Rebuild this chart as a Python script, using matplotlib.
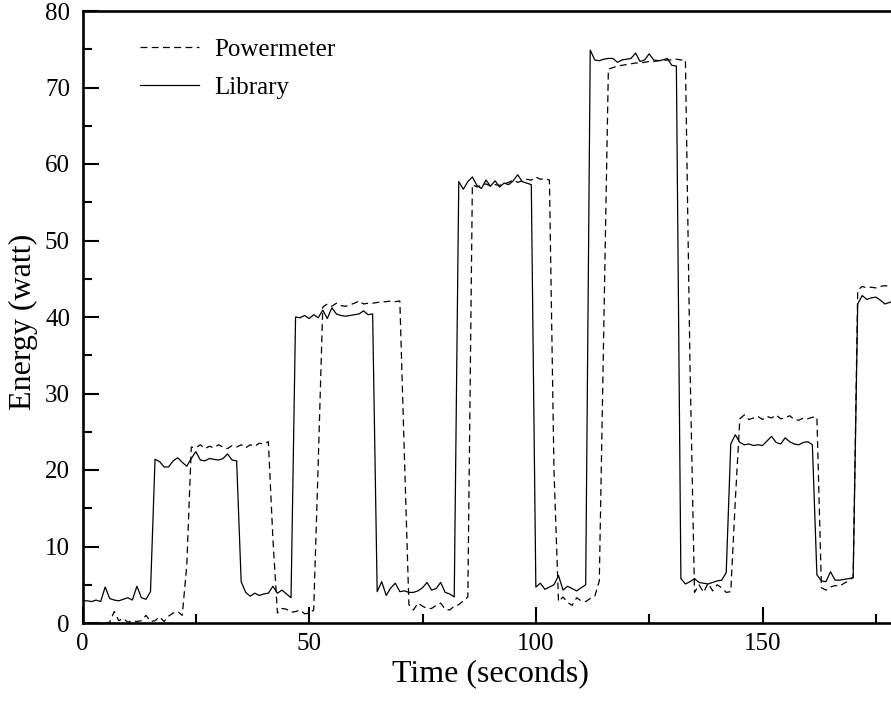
import numpy as np
import matplotlib
matplotlib.use("Agg")
import matplotlib.pyplot as plt
from matplotlib.ticker import MultipleLocator

# ---- data (one sample per second) ----
time_s = np.arange(0, 181)

library = [
    2.9, 2.9, 2.8, 3.0, 2.8, 4.7, 3.2, 3.0, 2.9, 3.1, 3.3, 3.0, 4.8, 3.3, 3.1, 4.1,
    21.4, 21.1, 20.4, 20.4, 21.2, 21.6, 21.0, 20.5, 21.5, 22.4, 21.3, 21.2, 21.5, 21.4, 21.3, 21.5, 22.1, 21.3, 21.2,
    5.4, 4.0, 3.5, 3.9, 3.6, 3.8, 3.9, 4.8, 3.9, 4.3, 3.8, 3.3,
    40.0, 39.9, 40.2, 39.8, 40.3, 39.9, 40.9, 39.8, 41.2, 40.4, 40.2, 40.1, 40.2, 40.3, 40.4, 40.8, 40.3, 40.4,
    4.1, 5.4, 3.6, 4.6, 5.2, 4.1, 4.2, 4.0, 4.0, 4.2, 4.6, 5.3, 4.3, 4.5, 5.3, 4.0, 3.8, 3.4,
    57.7, 56.7, 57.7, 58.3, 57.2, 56.8, 57.9, 57.1, 57.8, 57.0, 57.5, 57.3, 57.8, 58.6, 57.7, 57.5, 57.3,
    4.7, 5.2, 4.4, 4.7, 5.0, 6.2, 4.3, 4.8, 4.5, 4.2, 4.6, 5.0,
    74.9, 73.6, 73.5, 73.7, 73.8, 73.8, 73.3, 73.6, 73.7, 73.8, 74.5, 73.4, 73.6, 74.4, 73.6, 73.5, 73.6, 73.8, 72.9, 72.8,
    5.8, 5.1, 5.4, 5.8, 5.3, 5.2, 5.1, 5.3, 5.5, 5.6, 6.6,
    23.4, 24.6, 23.6, 23.3, 23.4, 23.2, 23.3, 23.2, 23.8, 24.4, 23.6, 23.4, 24.2, 23.7, 23.4, 23.3, 23.6, 23.7, 23.3,
    6.3, 5.5, 5.4, 6.7, 5.6, 5.6, 5.7, 5.8, 5.9,
    41.7, 42.8, 42.3, 42.5, 42.6, 42.2, 41.7, 41.9, 42.1, 42.0,
]

powermeter = [
    0.0, 0.0, 0.0, 0.0, 0.0, 0.0, 0.1, 1.5, 0.3, 0.6, 0.1, 0.3, 0.2, 0.3, 1.0, 0.2, 0.3, 0.8, 0.2, 0.9, 1.3, 1.5, 1.0, 7.5,
    23.0, 22.9, 23.3, 22.8, 23.1, 22.9, 23.3, 23.0, 22.8, 23.2, 23.0, 23.3, 22.9, 23.3, 23.1, 23.5, 23.4, 23.7,
    11.0, 1.3, 1.9, 1.8, 1.4, 1.5, 1.7, 1.2, 1.3, 1.7, 21.0,
    41.3, 41.7, 41.4, 41.8, 41.5, 41.4, 41.6, 41.8, 42.1, 41.7, 41.8, 41.8, 41.9, 42.0, 42.0, 42.1, 42.0, 42.1,
    22.0, 2.4, 1.7, 2.6, 2.2, 1.9, 1.9, 2.3, 2.6, 1.8, 1.7, 2.2, 2.4, 2.9, 3.4,
    57.3, 57.0, 57.2, 57.4, 57.1, 57.3, 57.2, 57.4, 57.6, 57.9, 57.6, 57.8, 58.0, 57.9, 58.3, 58.0, 58.1, 57.9,
    20.0, 2.8, 3.4, 2.7, 2.3, 3.3, 2.9, 2.8, 3.2, 3.5, 5.5, 39.0,
    72.4, 72.6, 72.8, 72.9, 73.0, 73.1, 73.2, 73.2, 73.3, 73.4, 73.4, 73.5, 73.5, 73.6, 73.6, 73.7, 73.6, 73.6, 34.0,
    4.0, 5.0, 4.0, 5.2, 4.2, 5.0, 4.6, 4.0, 4.1, 16.0,
    26.7, 27.2, 26.6, 26.8, 27.0, 26.6, 27.0, 26.8, 27.2, 26.7, 26.8, 27.1, 26.6, 26.5, 26.8, 26.7, 26.9, 26.9,
    4.6, 4.3, 4.7, 4.9, 4.8, 5.2, 5.5, 6.0,
    43.5, 44.0, 43.8, 43.9, 43.8, 44.0, 44.1, 44.0, 44.2, 44.0,
]

series_labels = ["Powermeter", "Library"]
x_label = "Time (seconds)"
y_label = "Energy (watt)"

# ---- style ----
plt.rcParams['font.family'] = ['Liberation Serif', 'DejaVu Serif']

fig = plt.figure(figsize=(8.91, 7.01), dpi=100)
ax = fig.add_axes([82.5 / 891, 78 / 701, (898.5 - 82.5) / 891, 612 / 701])

ax.plot(time_s, powermeter, color='black', lw=0.9, linestyle=(0, (5.5, 3.5)),
        label=series_labels[0])
ax.plot(time_s, library, color='black', lw=0.9, linestyle='-',
        label=series_labels[1])

ax.set_xlim(0, 180)
ax.set_ylim(0, 80)
ax.xaxis.set_major_locator(MultipleLocator(50))
ax.xaxis.set_minor_locator(MultipleLocator(25))
ax.yaxis.set_major_locator(MultipleLocator(10))
ax.yaxis.set_minor_locator(MultipleLocator(5))

ax.tick_params(which='both', direction='in', top=False, right=False, width=1.5,
               labelsize=18)
ax.tick_params(which='major', length=11.5)
ax.tick_params(which='minor', length=6.5)
ax.tick_params(axis='x', which='major', pad=7)
ax.tick_params(axis='y', which='major', pad=9)

for s in ax.spines.values():
    s.set_linewidth(1.9)

ax.set_xlabel(x_label, fontsize=23)
ax.set_ylabel(y_label, fontsize=23)
ax.xaxis.set_label_coords(0.5, -0.061)
ax.yaxis.set_label_coords(-0.055, 0.492)

leg = ax.legend(loc='upper left', bbox_to_anchor=(0.0704, 0.955), frameon=False,
                fontsize=18, handlelength=2.35, handletextpad=0.64,
                labelspacing=0.6, borderpad=0, borderaxespad=0)

fig.savefig("out.png", dpi=100)
